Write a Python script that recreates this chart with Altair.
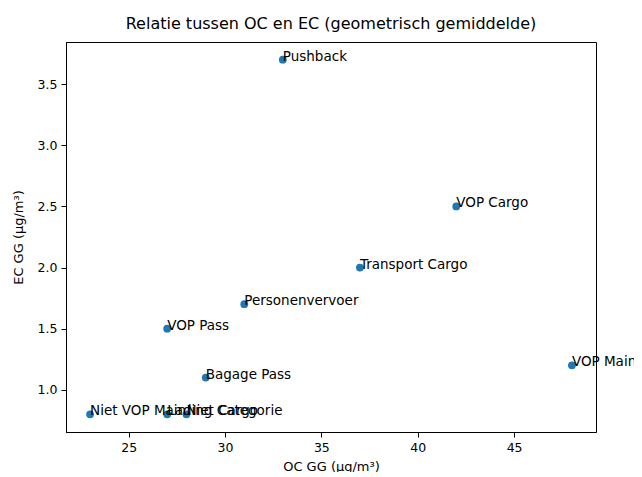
import altair as alt
import pandas as pd

labels = ["Pushback", "VOP Cargo", "Transport Cargo", "Personenvervoer", "VOP Pass",
          "VOP Main", "Bagage Pass", "Niet VOP Main", "Lading Categorie", "Niet Cargo"]
oc = [33, 42, 37, 31, 27, 48, 29, 23, 27, 28]
ec = [3.7, 2.5, 2.0, 1.7, 1.5, 1.2, 1.1, 0.8, 0.8, 0.8]

x_ticks = [25, 30, 35, 40, 45]
y_ticks = [1.0, 1.5, 2.0, 2.5, 3.0, 3.5]

df = pd.DataFrame({"label": labels, "oc": oc, "ec": ec})

font = "DejaVu Sans"

x = alt.X("oc:Q", title="OC GG (µg/m³)",
          scale=alt.Scale(domain=[21.75, 49.25], nice=False, zero=False),
          axis=alt.Axis(values=x_ticks, grid=False, tickColor="black", domainColor="black",
                        labelColor="black", titleColor="black", labelFontSize=12.5,
                        titleFontSize=13, titleFontWeight="normal", tickSize=5,
                        labelPadding=4, titlePadding=7, labelFont=font, titleFont=font))
y = alt.Y("ec:Q", title="EC GG (µg/m³)",
          scale=alt.Scale(domain=[0.655, 3.845], nice=False, zero=False),
          axis=alt.Axis(values=y_ticks, format=".1f", grid=False, tickColor="black",
                        domainColor="black", labelColor="black", titleColor="black",
                        labelFontSize=12.5, titleFontSize=13, titleFontWeight="normal",
                        tickSize=5, labelPadding=4, titlePadding=12, labelFont=font,
                        titleFont=font))

base = alt.Chart(df)
points = base.mark_circle(size=60, color="#1f77b4", opacity=1).encode(x=x, y=y)
texts = base.mark_text(align="left", baseline="alphabetic", fontSize=13.5, font=font,
                       color="black", dy=1).encode(x=x, y=y, text="label:N")

chart = (points + texts).properties(
    width=530, height=390,
    title=alt.TitleParams("Relatie tussen OC en EC (geometrisch gemiddelde)", fontSize=16,
                          fontWeight="normal", font=font, color="black", offset=10),
    autosize=alt.AutoSizeParams(type="none"),
    padding={"left": 58, "top": 34, "right": 38, "bottom": 40},
).configure_view(stroke="black", strokeWidth=1)

chart.save("out.html", embed_options={"renderer": "svg", "actions": False})
